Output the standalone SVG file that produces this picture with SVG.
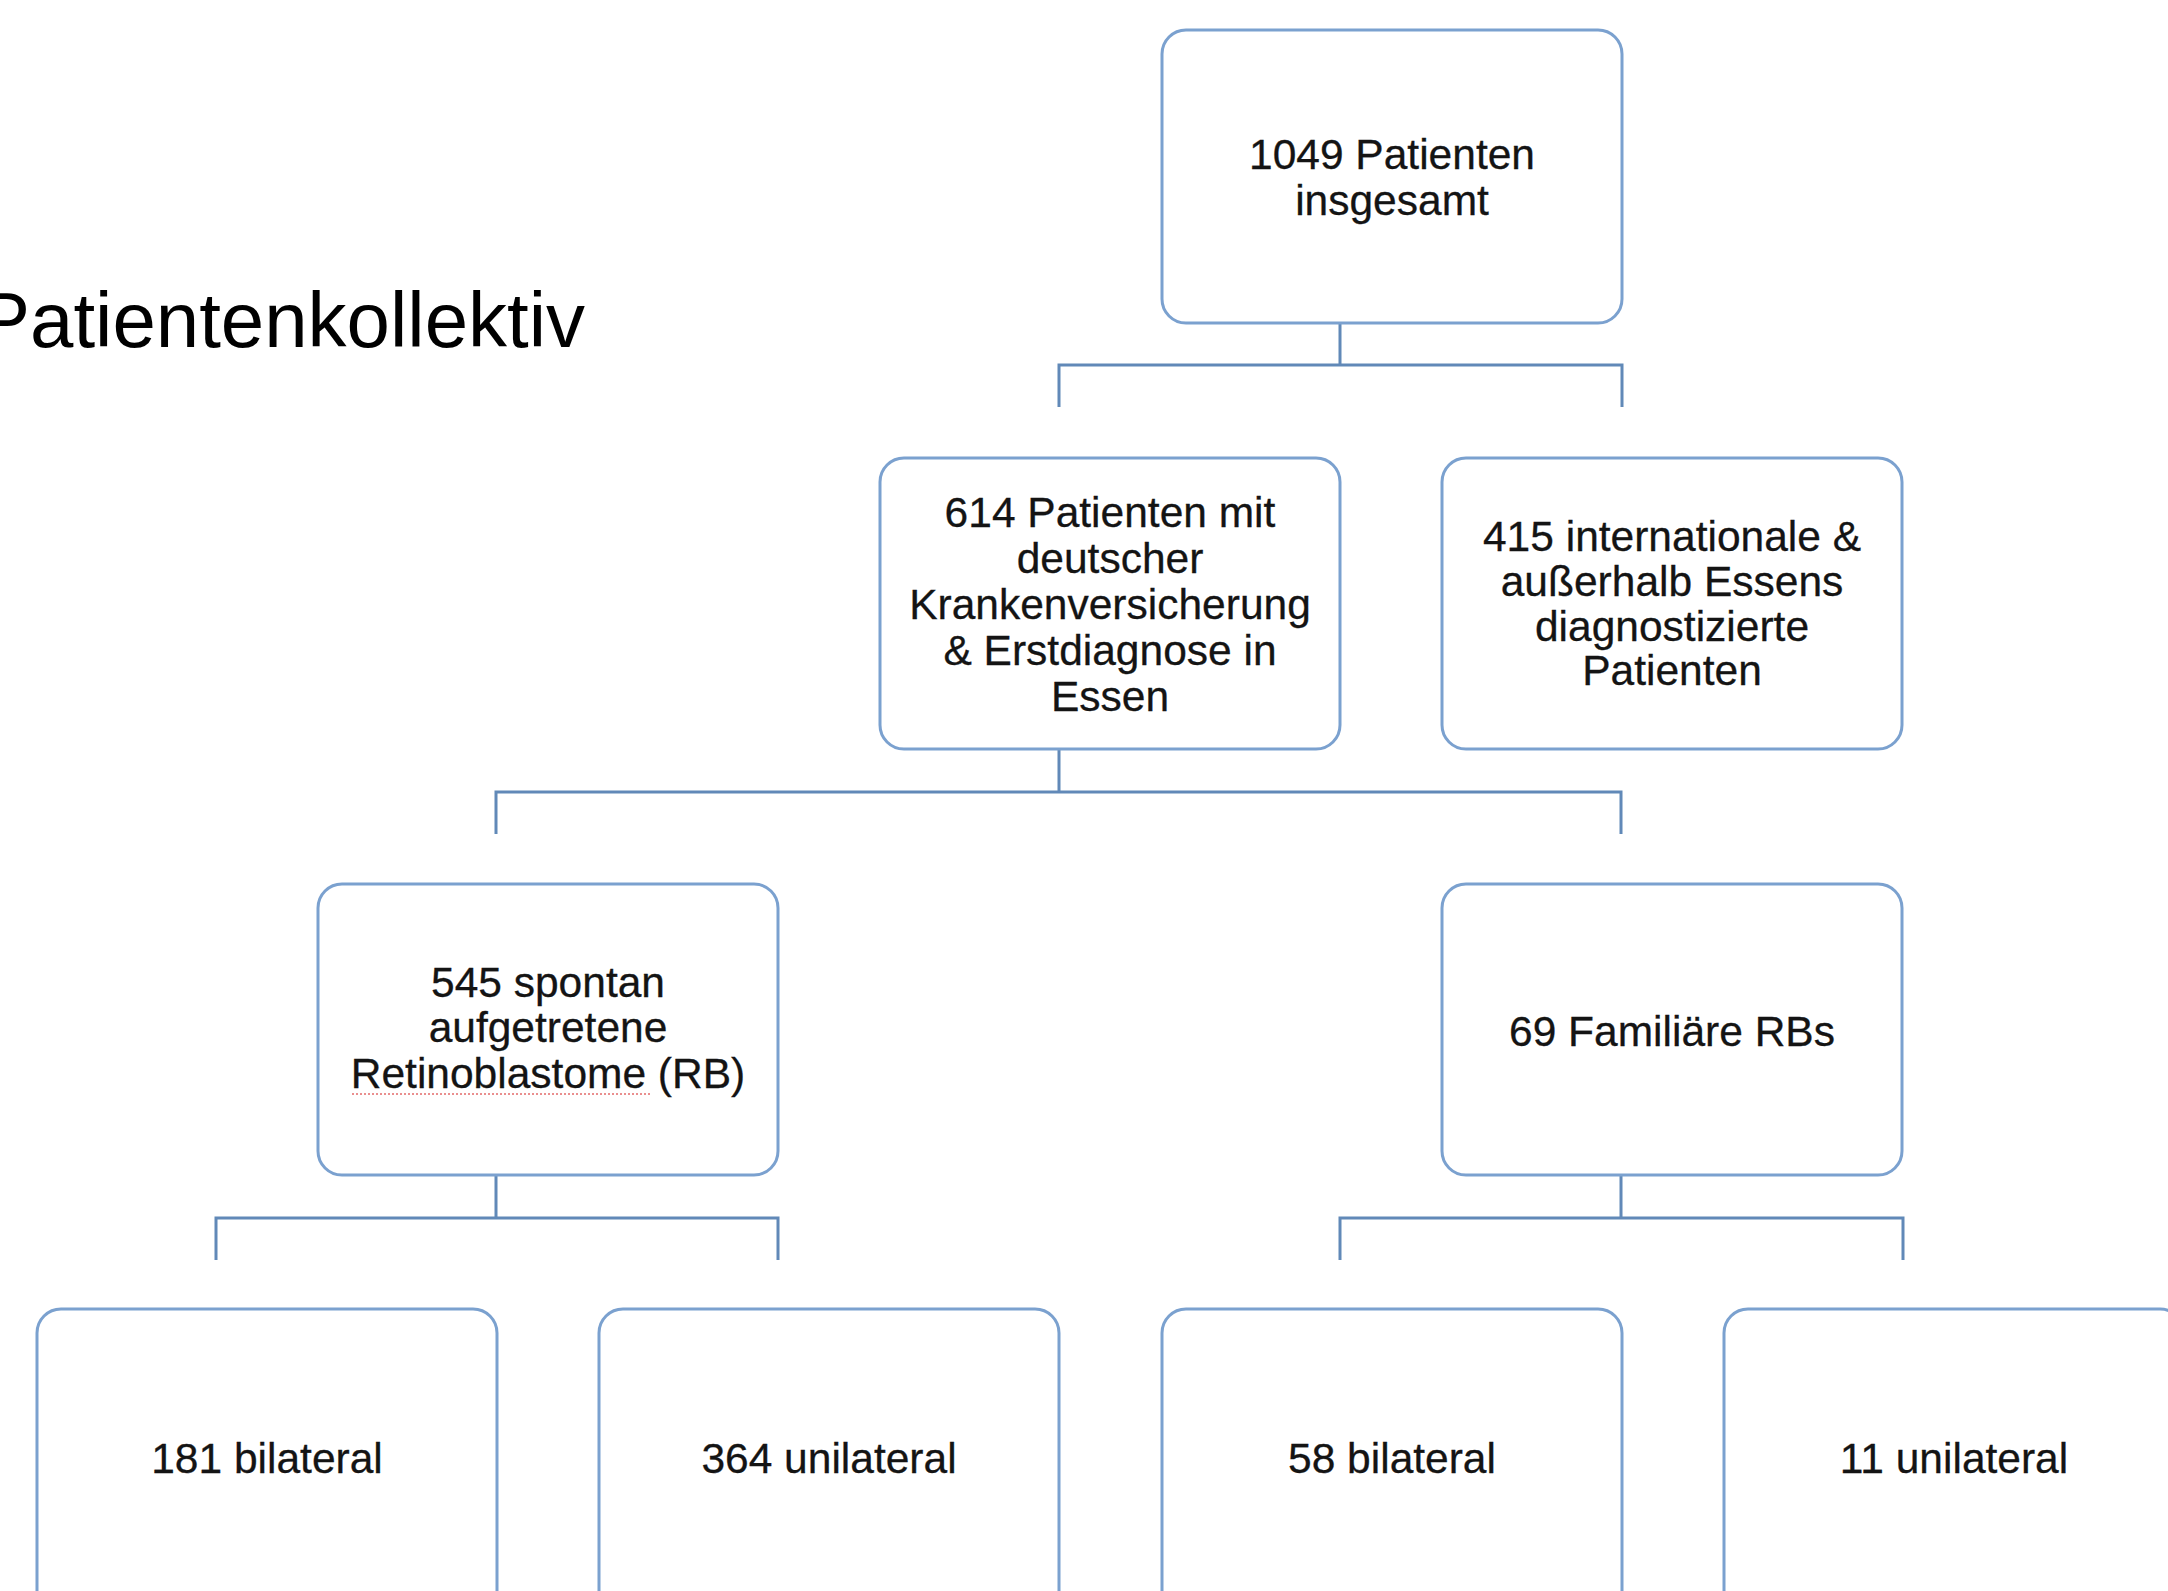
<svg xmlns="http://www.w3.org/2000/svg" width="2168" height="1591" viewBox="0 0 2168 1591">
<style>
.box{fill:#ffffff;stroke:#7ba1cf;stroke-width:3}
.lbl{font-family:"Liberation Sans",Arial,sans-serif;font-size:42.5px;fill:#141414;text-anchor:middle;stroke:#141414;stroke-width:0.3}
.con{fill:none;stroke:#6189b8;stroke-width:3}
.faint{fill:none;stroke:#c9d8ea;stroke-width:2}
.title{font-family:"Liberation Sans",Arial,sans-serif;font-size:78px;fill:#000000}
</style>
<rect width="2168" height="1591" fill="#ffffff"/>
<text class="title" x="-22" y="347">Patientenkollektiv</text>

<g id="connectors">
  <path class="faint" d="M1340 272V324M1059 714V749M496 1125V1175M1621 1125V1175"/>
  <path class="con" d="M1340 324V365M1059 407V365H1622V407"/>
  <path class="con" d="M1059 749V792M496 834V792H1621V834"/>
  <path class="con" d="M496 1175V1218M216 1260V1218H778V1260"/>
  <path class="con" d="M1621 1175V1218M1340 1260V1218H1903V1260"/>
</g>

<g id="n_total">
  <rect class="box" x="1162" y="30" width="460" height="293" rx="24"/>
  <text class="lbl" x="1392" y="169">1049 Patienten</text>
  <text class="lbl" x="1392" y="215">insgesamt</text>
</g>

<g id="n_de">
  <rect class="box" x="880" y="458" width="460" height="291" rx="24"/>
  <text class="lbl" x="1110" y="527">614 Patienten mit</text>
  <text class="lbl" x="1110" y="573">deutscher</text>
  <text class="lbl" x="1110" y="619">Krankenversicherung</text>
  <text class="lbl" x="1110" y="665">&amp; Erstdiagnose in</text>
  <text class="lbl" x="1110" y="711">Essen</text>
</g>

<g id="n_int">
  <rect class="box" x="1442" y="458" width="460" height="291" rx="24"/>
  <text class="lbl" x="1672" y="551">415 internationale &amp;</text>
  <text class="lbl" x="1672" y="596">außerhalb Essens</text>
  <text class="lbl" x="1672" y="641">diagnostizierte</text>
  <text class="lbl" x="1672" y="685">Patienten</text>
</g>

<g id="n_spontan">
  <rect class="box" x="318" y="884" width="460" height="291" rx="24"/>
  <text class="lbl" x="548" y="997">545 spontan</text>
  <text class="lbl" x="548" y="1042">aufgetretene</text>
  <text class="lbl" x="548" y="1088">Retinoblastome (RB)</text>
  <path d="M352 1094H650" fill="none" stroke="#e57373" stroke-width="2" stroke-dasharray="2 2" opacity="0.8"/>
</g>

<g id="n_fam">
  <rect class="box" x="1442" y="884" width="460" height="291" rx="24"/>
  <text class="lbl" x="1672" y="1046">69 Familiäre RBs</text>
</g>

<g id="n_181">
  <rect class="box" x="37" y="1309" width="460" height="330" rx="24"/>
  <text class="lbl" x="267" y="1473">181 bilateral</text>
</g>
<g id="n_364">
  <rect class="box" x="599" y="1309" width="460" height="330" rx="24"/>
  <text class="lbl" x="829" y="1473">364 unilateral</text>
</g>
<g id="n_58">
  <rect class="box" x="1162" y="1309" width="460" height="330" rx="24"/>
  <text class="lbl" x="1392" y="1473">58 bilateral</text>
</g>
<g id="n_11">
  <rect class="box" x="1724" y="1309" width="460" height="330" rx="24"/>
  <text class="lbl" x="1954" y="1473">11 unilateral</text>
</g>
</svg>
